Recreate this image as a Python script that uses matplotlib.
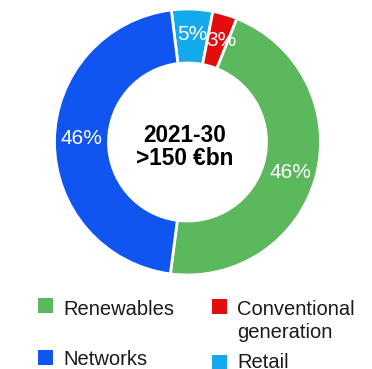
import matplotlib
matplotlib.use("Agg")
import matplotlib.pyplot as plt
from matplotlib.patches import Rectangle

# Data (pie order, clockwise from the top-left)
categories = ["Retail", "Conventional generation", "Renewables", "Networks"]
values = [5, 3, 46, 46]
colors = ["#14A9EC", "#E30D0D", "#5CB85C", "#1155F0"]
center_title = "2021-30"
center_sub = ">150 \u20acbn"

W, H = 372, 369
fig = plt.figure(figsize=(W / 100, H / 100), dpi=100)
ax = fig.add_axes([0, 0, 1, 1])

cx, cy, R = 187.5, H - 142, 133
wedges, texts, autotexts = ax.pie(
    values, colors=colors, startangle=97, counterclock=False,
    center=(cx, cy), radius=R, autopct="%.0f%%", pctdistance=0.8,
    wedgeprops=dict(width=54, edgecolor="white", linewidth=2),
    textprops=dict(color="white", fontsize=15, family="Liberation Sans"),
)
# small label nudges (pixels) to match reference placement
nudges = [(1, 1), (4, -1), (0, -4), (0, 3)]
for t, (dx, dy) in zip(autotexts, nudges):
    x, y = t.get_position()
    t.set_position((x + dx, y + dy))

ax.set_xlim(0, W)
ax.set_ylim(0, H)
ax.set_aspect("equal")
ax.axis("off")

ax.text(185, H - 142, center_title, ha="center", va="baseline",
        fontsize=16.3, fontweight="bold", family="Liberation Sans", color="black")
ax.text(185, H - 165, center_sub, ha="center", va="baseline",
        fontsize=16.3, fontweight="bold", family="Liberation Sans", color="black")

# Legend (manual layout matching reference)
leg_items = [
    (2, 38, 298, [("Renewables", 315)]),
    (3, 38, 350, [("Networks", 365)]),
    (1, 212, 299, [("Conventional", 315), ("generation", 338)]),
    (0, 212, 355, [("Retail", 368.5)]),
]
for idx, sx, sy, lines in leg_items:
    ax.add_patch(Rectangle((sx, H - sy - 15), 15, 15, facecolor=colors[idx],
                           edgecolor="none", clip_on=False))
    for txt, base in lines:
        ax.text(sx + 25, H - base, txt, ha="left", va="baseline",
                fontsize=14.5, family="Liberation Sans", color="#1a1a1a")

fig.savefig("out.png", dpi=100)
